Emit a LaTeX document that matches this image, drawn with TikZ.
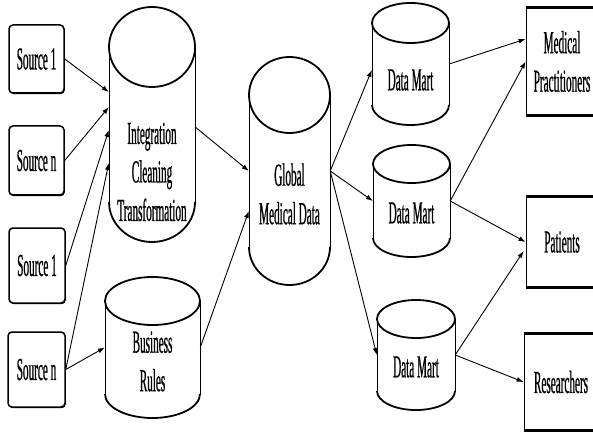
\documentclass[tikz,border=0pt]{standalone}
\usepackage{fontspec}
\newfontfamily\diagfont[FakeStretch=0.35, FakeBold=0.6]{Liberation Serif}
\usetikzlibrary{arrows.meta,shadows}
\newcommand{\diagtext}{\diagfont\fontsize{32}{38.5}\selectfont}
% drum: name, centre x, top y, bottom y, x radius, y radius
\newcommand{\drum}[6]{%
  \node[drumbody, minimum width={2*#5}, minimum height={#3-#4}] (#1) at (#2,{(#3+#4)/2}) {};
  \draw[drumside] ({#2-#5},{#3-#6}) -- ({#2-#5},{#4+#6});
  \draw[drumside] ({#2+#5},{#3-#6}) -- ({#2+#5},{#4+#6});
  \draw[drumrim] ({#2-#5},{#4+#6}) arc[start angle=180, end angle=360, x radius=#5, y radius=#6];
  \draw[drumrim] (#2,{#3-#6}) ellipse[x radius=#5, y radius=#6];
}

\begin{document}
\begin{tikzpicture}[
  x=1pt, y=1pt,
  srcbox/.style={draw, line width=1.5pt, rounded corners=4pt, fill=white, inner sep=0pt,
    align=center, font=\diagtext,
    drop shadow={shadow xshift=0.8pt, shadow yshift=-1.2pt, fill=black, opacity=1}},
  userbox/.style={draw, line width=0.8pt, inner sep=0pt, align=center, font=\diagtext,
    append after command={(\tikzlastnode.north west) edge[line width=2.6pt] (\tikzlastnode.north east)
      (\tikzlastnode.south west) edge[line width=2.6pt] (\tikzlastnode.south east)}},
  drumbody/.style={inner sep=0pt},
  drumside/.style={line width=0.8pt},
  drumrim/.style={line width=1.8pt},
  drumlabel/.style={align=center, inner sep=0pt, font=\diagtext},
  feed/.style={-{Latex[length=7pt,width=5pt]}, line width=0.9pt}
]
\useasboundingbox (0,0) rectangle (593,434);
% sources
\node[srcbox, minimum width=55, minimum height=68] (srcA) at (36.5,375) {Source 1};
\node[srcbox, minimum width=55, minimum height=69] (srcB) at (36.5,273.5) {Source n};
\node[srcbox, minimum width=56, minimum height=75] (srcC) at (37,168.5) {Source 1};
\node[srcbox, minimum width=57, minimum height=75] (srcD) at (36.5,64.5) {Source n};
% stores
\drum{integ}{152}{427}{192}{43}{40}
\node[drumlabel] (integ-text) at (152,262) {Integration\\Cleaning\\Transformation};
\drum{rules}{152.5}{157}{16}{47.5}{24}
\node[drumlabel] (rules-text) at (152.5,72.5) {Business\\Rules};
\drum{global}{289.5}{377}{149}{40.5}{38}
\node[drumlabel] (global-text) at (289.5,240) {Global\\Medical Data};
\drum{martA}{410.5}{431}{309}{38.5}{20}
\node[drumlabel] (martA-text) at (410.5,354) {Data Mart};
\drum{martB}{411.5}{289}{177}{38.5}{19}
\node[drumlabel] (martB-text) at (411.5,221) {Data Mart};
\drum{martC}{416}{134}{24}{39}{19}
\node[drumlabel] (martC-text) at (416,67) {Data Mart};
% users
\node[userbox, minimum width=72, minimum height=107] (practs) at (562,372.5) {Medical\\Practitioners};
\node[userbox, minimum width=72, minimum height=90] (patients) at (562,192) {Patients};
\node[userbox, minimum width=74, minimum height=96] (research) at (561,52) {Researchers};
% flows
\draw[feed] (srcA.east) -- ([yshift=32.5pt]integ.west);
\draw[feed] (srcB.east) -- ([yshift=17.5pt]integ.west);
\draw[feed] (srcC.east) -- ([yshift=-5.5pt]integ.west);
\draw[feed] (srcD.east) -- ([yshift=-38.5pt]integ.west);
\draw[feed] (srcD.east) -- (rules.west);
\draw[feed] ([yshift=-2.5pt]integ.east) -- (global.west);
\draw[feed] (rules.east) -- ([yshift=-40pt]global.west);
\draw[feed] (global.east) -- ([yshift=-6pt]martA.west);
\draw[feed] (global.east) -- (martB.west);
\draw[feed] (global.east) -- (martC.west);
\draw[feed] (martA.east) -- ([yshift=22.5pt]practs.west);
\draw[feed] (martB.east) -- (practs.west);
\draw[feed] (martB.east) -- (patients.west);
\draw[feed] (martC.east) -- ([xshift=-2pt,yshift=-9pt]patients.west);
\draw[feed] (martC.east) -- (research.west);
\end{tikzpicture}
\end{document}
